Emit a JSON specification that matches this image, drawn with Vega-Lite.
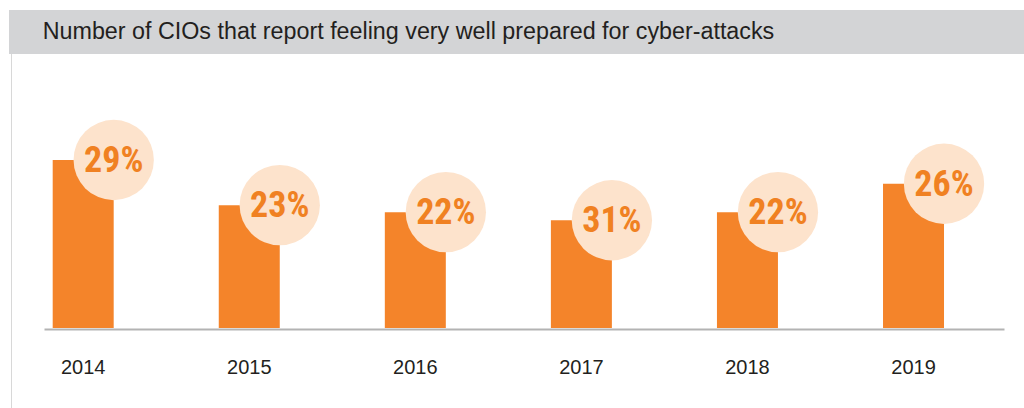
{
  "$schema": "https://vega.github.io/schema/vega-lite/v6.json",
  "background": "white",
  "autosize": {"type": "none"},
  "padding": {"left": 9, "top": 10, "right": 0, "bottom": 0},
  "width": 1015,
  "height": 398,
  "config": {"view": {"stroke": null}},
  "data": {
    "values": [
      {"year": "2014", "bar": 29, "label": "29%"},
      {"year": "2015", "bar": 21.2, "label": "23%"},
      {"year": "2016", "bar": 20, "label": "22%"},
      {"year": "2017", "bar": 18.6, "label": "31%"},
      {"year": "2018", "bar": 20, "label": "22%"},
      {"year": "2019", "bar": 24.9, "label": "26%"}
    ]
  },
  "layer": [
    {
      "mark": {"type": "bar", "color": "#f4842a"},
      "encoding": {
        "x": {
          "field": "year",
          "type": "ordinal",
          "scale": {"range": [35, 995], "paddingInner": 0.6327, "paddingOuter": 0.2068, "align": 0.1266},
          "axis": {
            "orient": "bottom",
            "offset": -79,
            "title": null,
            "domainColor": "#b3b3b3",
            "domainWidth": 2,
            "ticks": false,
            "tickSize": 0,
            "labelPadding": 38,
            "labelBaseline": "middle",
            "labelFont": "Liberation Sans",
            "labelFontSize": 20,
            "labelColor": "#231f20",
            "labelAngle": 0
          }
        },
        "y": {
          "field": "bar",
          "type": "quantitative",
          "scale": {"domain": [-13.81, 54.89], "nice": false, "zero": false},
          "axis": {
            "orient": "left",
            "offset": -2,
            "domainColor": "#d8d8d8",
            "domainWidth": 1,
            "ticks": false,
            "labels": false,
            "grid": false,
            "title": null
          }
        }
      }
    },
    {
      "data": {"values": [{"part": "header"}]},
      "mark": {"type": "rect", "color": "#d3d4d6"},
      "encoding": {
        "y": {"datum": 54.89, "type": "quantitative"},
        "y2": {"datum": 47.3}
      }
    },
    {
      "data": {"values": [{"title": "Number of CIOs that report feeling very well prepared for cyber-attacks"}]},
      "mark": {
        "type": "text",
        "align": "left",
        "baseline": "middle",
        "dx": -10,
        "fontSize": 23.3,
        "font": "Liberation Sans",
        "fontWeight": "normal",
        "color": "#231f20"
      },
      "encoding": {
        "x": {"datum": "2014", "type": "ordinal", "bandPosition": 0},
        "y": {"datum": 51.1, "type": "quantitative"},
        "text": {"field": "title"}
      }
    },
    {
      "mark": {"type": "point", "filled": true, "color": "#fde3cc", "opacity": 1, "size": 6450},
      "encoding": {
        "x": {"field": "year", "type": "ordinal", "bandPosition": 1},
        "y": {"field": "bar", "type": "quantitative"}
      }
    },
    {
      "mark": {
        "type": "text",
        "color": "#f08122",
        "font": "Roboto Condensed, Liberation Sans Narrow, DejaVu Sans Condensed, Liberation Sans",
        "fontWeight": "bold",
        "fontSize": 36,
        "align": "center",
        "baseline": "middle",
        "dy": 1
      },
      "encoding": {
        "x": {"field": "year", "type": "ordinal", "bandPosition": 1},
        "y": {"field": "bar", "type": "quantitative"},
        "text": {"field": "label"}
      }
    }
  ]
}
